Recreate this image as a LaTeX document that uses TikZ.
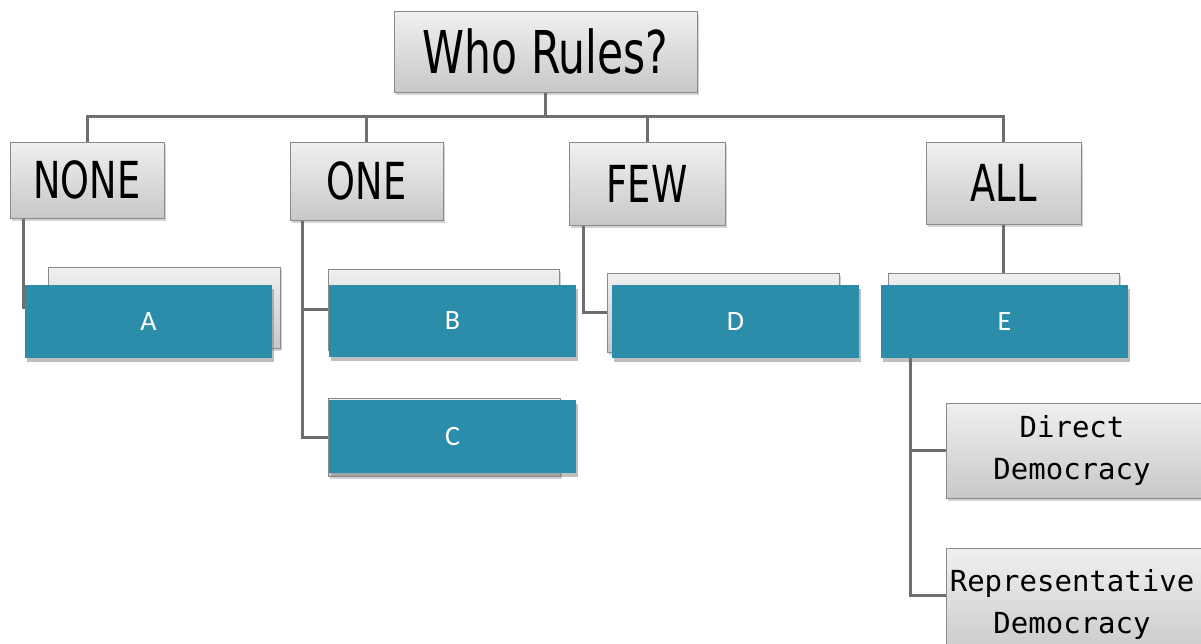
\documentclass[tikz,border=0pt]{standalone}
\usepackage{fontspec}
\setmainfont{Carlito}
\newfontfamily\headfont[FakeStretch=0.72]{DejaVu Sans}
\newfontfamily\handmono{DejaVu Sans Mono}
\usetikzlibrary{shadows}
\definecolor{boxtop}{HTML}{F0F0F0}
\definecolor{boxbot}{HTML}{C8C8C8}
\definecolor{boxedge}{HTML}{8A8A8A}
\definecolor{linkgray}{HTML}{6E6E6E}
\definecolor{tealbox}{HTML}{2B8DAA}
\tikzset{
  graybox/.style={draw=boxedge, line width=1pt, top color=boxtop, bottom color=boxbot,
    rectangle, inner sep=0pt, align=center,
    drop shadow={shadow xshift=2pt, shadow yshift=-3pt, opacity=0.35}},
  bluebox/.style={fill=tealbox, rectangle, inner sep=0pt, text=white,
    font=\fontsize{28}{32}\selectfont,
    drop shadow={shadow xshift=2pt, shadow yshift=-4pt, opacity=0.5}},
  headtext/.style={font=\headfont\fontsize{51}{56}\selectfont},
  subtext/.style={font=\handmono\fontsize{29}{42}\selectfont},
  link/.style={draw=linkgray, line width=3pt}
}
\begin{document}
\begin{tikzpicture}[x=1pt, y=-1pt]
\useasboundingbox (0,0) rectangle (1201,643);
\begin{scope}
\clip (0,0) rectangle (1201,643);

% top level and the four headings
\node[graybox, minimum width=303pt, minimum height=81pt,
      font=\headfont\fontsize{59}{64}\selectfont] (who) at (545.5,51.5) {Who Rules?};
\node[graybox, headtext, minimum width=154pt, minimum height=76pt] (none) at (87,180) {NONE};
\node[graybox, headtext, minimum width=153pt, minimum height=78pt] (one) at (366.5,181) {ONE};
\node[graybox, headtext, minimum width=156pt, minimum height=83pt] (few) at (647,183.5) {FEW};
\node[graybox, headtext, minimum width=155pt, minimum height=82pt] (all) at (1003.5,183) {ALL};

% connectors from the title down to the headings
\coordinate (bar) at (who.south |- 0,116);
\draw[link] (who.south) -- (bar);
\draw[link] (none.north) |- (bar) -| (all.north);
\draw[link] (one.north) -- (one.north |- bar);
\draw[link] (few.north) -- (few.north |- bar);

% back cards of the second level
\coordinate (legA) at ([xshift=14pt]none.south west);
\coordinate (legB) at ([xshift=13pt]one.south west);
\coordinate (legD) at ([xshift=15pt]few.south west);
\node[graybox, minimum width=232pt, minimum height=81pt] (gA) at (164,307.5) {};
\node[graybox, minimum width=231pt, minimum height=81pt] (gB) at (443.5,309.5) {};
\node[graybox, minimum width=232pt, minimum height=78pt] (gC) at (444,437) {};
\node[graybox, minimum width=232pt, minimum height=79pt] (gD) at (723,312.5) {};
\node[graybox, minimum width=231pt, minimum height=77pt] (gE) at (1003.5,311.5) {};

% second level connectors
\draw[link] (legA) |- (gA.west);
\draw[link] (legB) |- (gB.west);
\draw[link] (legB |- gB.west) |- (gC.west);
\draw[link] (legD) |- (gD.west);
\draw[link] (all.south) -- (gE.north);

% front cards of the second level
\node[bluebox, minimum width=247pt, minimum height=73pt] (A) at (148.5,321.5) {A};
\node[bluebox, minimum width=247pt, minimum height=72pt] (B) at (452.5,321) {B};
\node[bluebox, minimum width=247pt, minimum height=73pt] (C) at (452.5,436.5) {C};
\node[bluebox, minimum width=247pt, minimum height=73pt] (D) at (735.5,321.5) {D};
\node[bluebox, minimum width=247pt, minimum height=73pt] (E) at (1004.5,321.5) {E};

% third level under E
\node[graybox, subtext, minimum width=262pt, minimum height=95pt] (direct) at (1077,450.5)
  {\hspace*{-10pt}Direct\\\hspace*{-10pt}Democracy};
\node[graybox, subtext, minimum width=262pt, minimum height=112pt] (rep) at (1077,604)
  {\hspace*{-10pt}Representative\\\hspace*{-10pt}Democracy};
\coordinate (eLeg) at ([xshift=30pt]E.south west);
\coordinate (repIn) at (rep.west |- 0,595);
\draw[link] (eLeg) |- (direct.west);
\draw[link] (eLeg |- direct.west) |- (repIn);
\end{scope}
\end{tikzpicture}
\end{document}
